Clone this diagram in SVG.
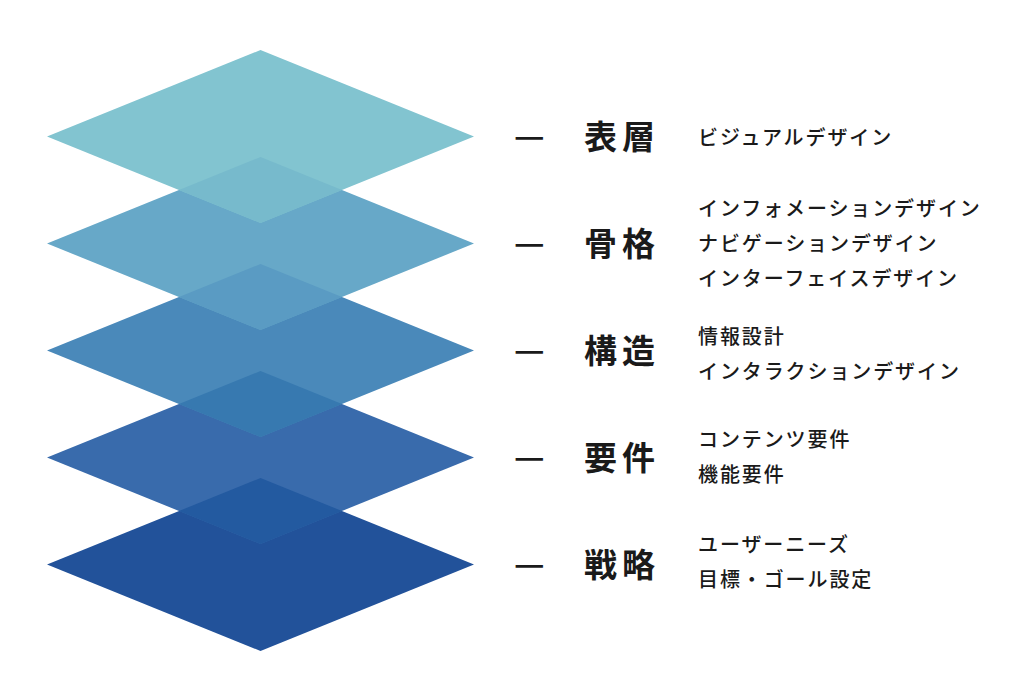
<svg xmlns="http://www.w3.org/2000/svg" width="1024" height="693" viewBox="0 0 1024 693">
<style>
.head{font-family:"Noto Sans CJK JP","Noto Sans CJK SC",sans-serif;font-size:33px;font-weight:700;letter-spacing:5px;fill:#1a1a1a}
.sub{font-family:"Noto Sans CJK JP","Noto Sans CJK SC",sans-serif;font-size:20px;font-weight:500;letter-spacing:1.9px;fill:#1a1a1a}
.dash{font-family:"Noto Sans CJK JP","Noto Sans CJK SC",sans-serif;font-size:34px;font-weight:500;fill:#1a1a1a}
</style>
<rect width="1024" height="693" fill="#ffffff"/>
<g id="layers">
<polygon id="layer-strategy" points="260.5,478 474,564.5 260.5,651 47,564.5" fill="#22529A"/>
<polygon id="layer-scope" points="260.5,371 474,457.5 260.5,544 47,457.5" fill="#396BAC"/>
<polygon id="layer-structure" points="260.5,264 474,350.5 260.5,437 47,350.5" fill="#4A89BA"/>
<polygon id="layer-skeleton" points="260.5,157 474,243.5 260.5,330 47,243.5" fill="#67A8C8"/>
<polygon id="layer-surface" points="260.5,50 474,136.5 260.5,223 47,136.5" fill="#82C4D0"/>
<polygon points="260.5,157 342,190 260.5,223 179,190" fill="#77BACC"/>
<polygon points="260.5,264 342,297 260.5,330 179,297" fill="#5A9BC3"/>
<polygon points="260.5,371 342,404 260.5,437 179,404" fill="#3779B0"/>
<polygon points="260.5,478 342,511 260.5,544 179,511" fill="#235AA0"/>
</g>
<g id="row-surface">
<text class="dash" x="514" y="148">—</text>
<text class="head" x="584" y="149">表層</text>
<text class="sub" x="698" y="145">ビジュアルデザイン</text>
</g>
<g id="row-skeleton">
<text class="dash" x="514" y="255">—</text>
<text class="head" x="584" y="256">骨格</text>
<text class="sub" x="698" y="216">インフォメーションデザイン</text>
<text class="sub" x="698" y="251">ナビゲーションデザイン</text>
<text class="sub" x="698" y="286">インターフェイスデザイン</text>
</g>
<g id="row-structure">
<text class="dash" x="514" y="362">—</text>
<text class="head" x="584" y="363">構造</text>
<text class="sub" x="698" y="343.5">情報設計</text>
<text class="sub" x="698" y="378.5">インタラクションデザイン</text>
</g>
<g id="row-scope">
<text class="dash" x="514" y="469">—</text>
<text class="head" x="584" y="470">要件</text>
<text class="sub" x="698" y="447">コンテンツ要件</text>
<text class="sub" x="698" y="482">機能要件</text>
</g>
<g id="row-strategy">
<text class="dash" x="514" y="576">—</text>
<text class="head" x="584" y="577">戦略</text>
<text class="sub" x="698" y="552">ユーザーニーズ</text>
<text class="sub" x="698" y="587">目標・ゴール設定</text>
</g>
</svg>
